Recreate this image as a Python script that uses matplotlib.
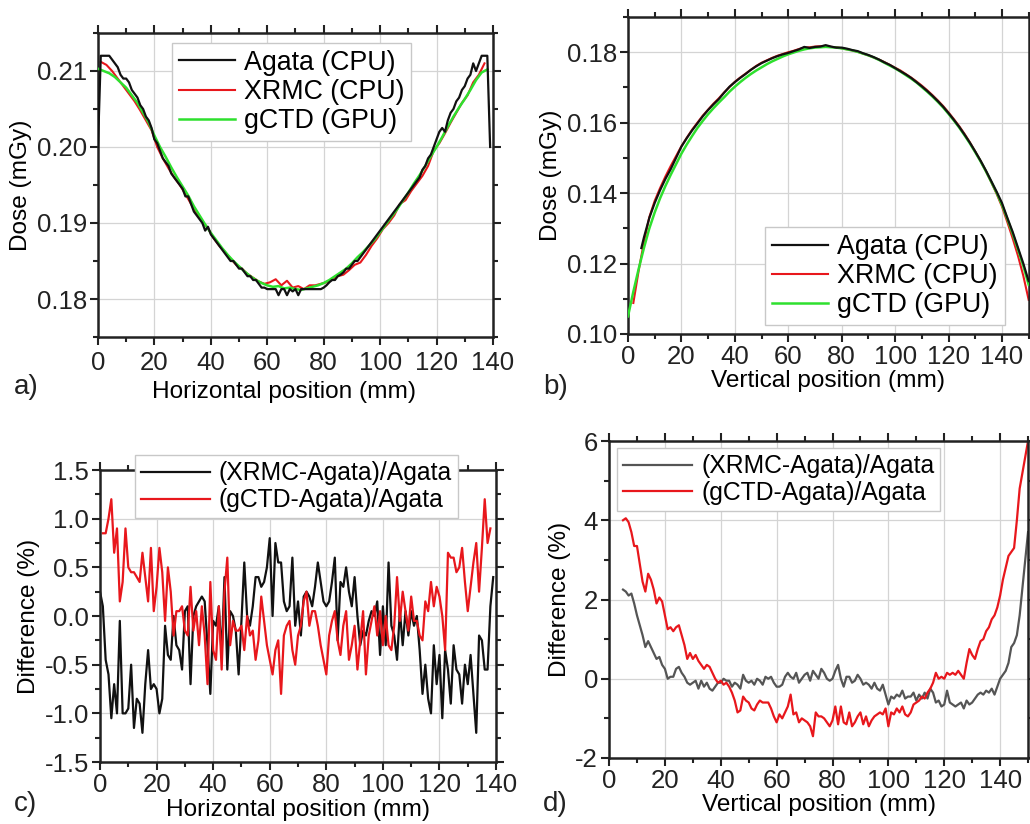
import numpy as np
import matplotlib
matplotlib.use("Agg")
import matplotlib.pyplot as plt
from matplotlib.ticker import MultipleLocator, FormatStrFormatter

plt.rcParams['font.family'] = ['Liberation Sans', 'DejaVu Sans']
plt.rcParams['axes.unicode_minus'] = False

# ---------------- Panel a: horizontal dose profiles ----------------
a_agata_x = np.arange(0, 140, 1)
a_agata = [0.2000, 0.2120, 0.2120, 0.2120, 0.2120, 0.2115, 0.2110, 0.2105, 0.2095, 0.2090,
           0.2090, 0.2085, 0.2075, 0.2070, 0.2065, 0.2055, 0.2050, 0.2040, 0.2035, 0.2025,
           0.2010, 0.2005, 0.1995, 0.1985, 0.1980, 0.1975, 0.1965, 0.1960, 0.1955, 0.1950,
           0.1945, 0.1935, 0.1935, 0.1925, 0.1915, 0.1910, 0.1905, 0.1900, 0.1890, 0.1895,
           0.1885, 0.1880, 0.1875, 0.1870, 0.1865, 0.1860, 0.1855, 0.1850, 0.1850, 0.1845,
           0.1840, 0.1840, 0.1835, 0.1830, 0.1830, 0.1825, 0.1825, 0.1820, 0.1815, 0.1815,
           0.1813, 0.1813, 0.1813, 0.1813, 0.1805, 0.1813, 0.1813, 0.1805, 0.1813, 0.1810,
           0.1813, 0.1805, 0.1813, 0.1813, 0.1813, 0.1813, 0.1813, 0.1813, 0.1813, 0.1813,
           0.1815, 0.1818, 0.1822, 0.1825, 0.1825, 0.1830, 0.1832, 0.1835, 0.1840, 0.1840,
           0.1845, 0.1850, 0.1850, 0.1855, 0.1860, 0.1865, 0.1870, 0.1875, 0.1880, 0.1885,
           0.1890, 0.1895, 0.1900, 0.1905, 0.1910, 0.1915, 0.1920, 0.1925, 0.1930, 0.1935,
           0.1940, 0.1945, 0.1950, 0.1955, 0.1960, 0.1970, 0.1975, 0.1985, 0.1990, 0.2000,
           0.2010, 0.2020, 0.2025, 0.2020, 0.2035, 0.2045, 0.2050, 0.2060, 0.2065, 0.2075,
           0.2080, 0.2090, 0.2095, 0.2110, 0.2100, 0.2110, 0.2120, 0.2120, 0.2120, 0.2000]

a_xrmc_x = np.arange(1, 139, 2)
a_xrmc = [0.2112, 0.2108, 0.2100, 0.2090, 0.2080, 0.2070, 0.2060, 0.2048, 0.2035, 0.2022,
          0.2000, 0.1985, 0.1972, 0.1960, 0.1950, 0.1938, 0.1925, 0.1912, 0.1902, 0.1893,
          0.1880, 0.1870, 0.1862, 0.1853, 0.1845, 0.1840, 0.1833, 0.1828, 0.1823, 0.1820,
          0.1822, 0.1826, 0.1818, 0.1824, 0.1815, 0.1817, 0.1813, 0.1818, 0.1818, 0.1820,
          0.1822, 0.1826, 0.1830, 0.1832, 0.1838, 0.1845, 0.1848, 0.1858, 0.1870, 0.1880,
          0.1892, 0.1900, 0.1910, 0.1925, 0.1930, 0.1942, 0.1952, 0.1962, 0.1975, 0.1995,
          0.2005, 0.2018, 0.2032, 0.2045, 0.2058, 0.2068, 0.2085, 0.2095, 0.2110]

a_gctd_x = np.arange(0, 140, 2)
a_gctd = [0.2103, 0.2100, 0.2097, 0.2092, 0.2085, 0.2078, 0.2068, 0.2058, 0.2045, 0.2032,
          0.2015, 0.2000, 0.1987, 0.1973, 0.1960, 0.1948, 0.1936, 0.1922, 0.1910, 0.1898,
          0.1887, 0.1877, 0.1867, 0.1858, 0.1850, 0.1843, 0.1836, 0.1830, 0.1825, 0.1821,
          0.1818, 0.1816, 0.1817, 0.1814, 0.1815, 0.1813, 0.1812, 0.1814, 0.1816, 0.1818,
          0.1821, 0.1825, 0.1830, 0.1835, 0.1840, 0.1847, 0.1855, 0.1862, 0.1870, 0.1878,
          0.1888, 0.1898, 0.1908, 0.1918, 0.1929, 0.1940, 0.1952, 0.1963, 0.1975, 0.1988,
          0.2000, 0.2013, 0.2027, 0.2040, 0.2052, 0.2063, 0.2075, 0.2088, 0.2098, 0.2102]

# ---------------- Panel b: vertical dose profiles ----------------
b_agata_x = np.concatenate([[5], np.arange(6, 151, 2)])
b_agata = [0.1244, 0.1275, 0.1330, 0.1372, 0.1408, 0.1440, 0.1468, 0.1500, 0.1532, 0.1556,
           0.1578, 0.1598, 0.1618, 0.1636, 0.1652, 0.1667, 0.1685, 0.1702, 0.1715, 0.1727,
           0.1738, 0.1750, 0.1760, 0.1769, 0.1776, 0.1783, 0.1789, 0.1794, 0.1798, 0.1803,
           0.1808, 0.1815, 0.1812, 0.1815, 0.1816, 0.1820, 0.1816, 0.1813, 0.1813, 0.1810,
           0.1806, 0.1803, 0.1797, 0.1792, 0.1786, 0.1779, 0.1771, 0.1764, 0.1755, 0.1746,
           0.1737, 0.1727, 0.1715, 0.1703, 0.1690, 0.1676, 0.1661, 0.1645, 0.1627, 0.1608,
           0.1588, 0.1566, 0.1543, 0.1518, 0.1492, 0.1464, 0.1434, 0.1404, 0.1372, 0.1330,
           0.1290, 0.1245, 0.1200, 0.1150]

b_xrmc_x = np.arange(2, 151, 2)
b_xrmc = [0.1088, 0.1180, 0.1262, 0.1332, 0.1378, 0.1414, 0.1447, 0.1477, 0.1505, 0.1533,
          0.1557, 0.1580, 0.1600, 0.1620, 0.1637, 0.1654, 0.1669, 0.1686, 0.1701, 0.1716,
          0.1728, 0.1739, 0.1750, 0.1761, 0.1770, 0.1777, 0.1784, 0.1790, 0.1795, 0.1800,
          0.1804, 0.1809, 0.1813, 0.1814, 0.1816, 0.1817, 0.1818, 0.1815, 0.1814, 0.1811,
          0.1808, 0.1805, 0.1801, 0.1796, 0.1791, 0.1785, 0.1779, 0.1772, 0.1764, 0.1756,
          0.1748, 0.1738, 0.1728, 0.1717, 0.1705, 0.1692, 0.1678, 0.1663, 0.1647, 0.1629,
          0.1610, 0.1590, 0.1568, 0.1544, 0.1518, 0.1491, 0.1462, 0.1431, 0.1398, 0.1362,
          0.1318, 0.1272, 0.1222, 0.1165, 0.1097]

b_gctd_x = np.arange(0, 151, 2)
b_gctd = [0.1050, 0.1120, 0.1185, 0.1245, 0.1300, 0.1345, 0.1385, 0.1420, 0.1452, 0.1482,
          0.1512, 0.1538, 0.1562, 0.1585, 0.1605, 0.1624, 0.1641, 0.1657, 0.1672, 0.1688,
          0.1702, 0.1715, 0.1727, 0.1738, 0.1748, 0.1757, 0.1766, 0.1774, 0.1781, 0.1788,
          0.1794, 0.1799, 0.1804, 0.1808, 0.1811, 0.1813, 0.1814, 0.1815, 0.1814, 0.1813,
          0.1811, 0.1808, 0.1805, 0.1801, 0.1796, 0.1791, 0.1785, 0.1778, 0.1770, 0.1762,
          0.1754, 0.1745, 0.1735, 0.1725, 0.1714, 0.1701, 0.1688, 0.1674, 0.1659, 0.1643,
          0.1625, 0.1606, 0.1586, 0.1564, 0.1541, 0.1516, 0.1490, 0.1462, 0.1432, 0.1401,
          0.1367, 0.1327, 0.1285, 0.1240, 0.1193, 0.1140]

# ---------------- Panel c: horizontal differences (%) ----------------
c_xrmc_x = np.arange(0, 140, 1)
c_xrmc = [0.25, 0.10, -0.45, -0.60, -1.05, -0.70, -1.00, -0.05, -1.00, -1.00,
          -0.95, -0.50, -1.15, -0.85, -0.90, -1.20, -0.70, -0.35, -0.75, -0.70,
          -0.75, -1.00, -0.85, -0.10, -0.40, -0.45, 0.00, -0.30, -0.35, -0.55,
          0.05, 0.10, -0.70, 0.00, 0.10, 0.15, 0.20, 0.15, -0.30, -0.80,
          -0.05, -0.10, 0.10, -0.40, 0.40, -0.55, 0.05, 0.00, -0.15, -0.60,
          -0.05, 0.55, 0.00, -0.10, 0.10, 0.40, 0.40, 0.30, 0.35, 0.50,
          0.80, 0.00, 0.75, 0.55, 0.55, 0.15, 0.05, 0.10, 0.60, -0.10,
          0.15, -0.20, 0.20, 0.25, 0.20, 0.10, 0.30, 0.55, 0.35, 0.15,
          0.10, 0.15, 0.35, 0.60, -0.25, 0.35, 0.30, 0.50, 0.25, 0.10,
          0.40, 0.00, -0.30, -0.15, -0.20, -0.05, 0.05, 0.00, 0.15, -0.40,
          0.10, -0.30, 0.55, -0.10, -0.20, -0.45, 0.05, -0.30, 0.05, -0.20,
          0.05, -0.10, 0.00, -0.35, -0.80, -0.50, -0.85, -1.00, -0.30, -0.70,
          -0.40, -1.05, -0.35, -0.55, -0.90, -0.30, -0.55, -0.60, -0.90, -0.50,
          -0.70, -0.40, -0.80, -1.20, -0.20, -0.25, -0.55, -0.55, 0.10, 0.40]

c_gctd_x = np.arange(1, 139, 1)
c_gctd = [0.85, 0.85, 1.00, 1.20, 0.65, 0.90, 0.15, 0.35, 0.90, 0.50,
          0.45, 0.45, 0.40, 0.35, 0.65, 0.40, 0.15, 0.70, 0.05, 0.30,
          0.70, 0.45, -0.05, 0.50, 0.25, -0.20, 0.05, 0.05, 0.10, -0.15,
          -0.20, 0.30, -0.15, 0.05, -0.30, 0.10, -0.20, -0.70, 0.35, -0.35,
          -0.45, 0.10, -0.55, 0.25, 0.60, -0.30, -0.05, -0.15, -0.15, -0.10,
          -0.35, 0.00, -0.20, -0.15, -0.45, -0.25, 0.20, -0.05, -0.30, -0.45,
          -0.60, -0.35, -0.25, -0.80, -0.20, -0.10, -0.05, -0.35, -0.50, -0.20,
          -0.10, 0.15, 0.25, -0.10, 0.05, 0.05, -0.10, -0.30, -0.45, -0.60,
          -0.20, -0.05, 0.05, -0.25, -0.40, -0.10, 0.05, -0.45, -0.30, -0.10,
          -0.55, -0.25, 0.05, -0.60, -0.20, -0.05, 0.10, -0.20, 0.05, -0.30,
          0.00, -0.30, -0.35, -0.10, 0.40, -0.05, 0.25, 0.05, -0.15, 0.20,
          -0.05, -0.05, -0.20, -0.25, 0.15, 0.05, 0.35, 0.10, 0.30, 0.20,
          0.00, -0.35, 0.65, 0.60, 0.60, 0.45, 0.50, 0.70, 0.35, 0.05,
          0.30, 0.55, 0.75, 0.25, 0.70, 1.20, 0.75, 0.90]

# ---------------- Panel d: vertical differences (%) ----------------
d_xrmc_x = np.arange(5, 151, 1)
d_xrmc = [2.25, 2.20, 2.10, 2.15, 1.90, 1.60, 1.35, 1.10, 0.80, 0.95,
          0.80, 0.65, 0.50, 0.55, 0.35, 0.25, 0.00, 0.05, 0.05, 0.25,
          0.30, 0.15, 0.05, -0.10, -0.15, -0.10, -0.05, -0.25, -0.05, -0.20,
          -0.10, -0.25, -0.30, -0.20, -0.10, -0.10, 0.00, -0.05, -0.05, -0.20,
          -0.10, -0.15, -0.25, 0.10, -0.05, -0.10, -0.05, -0.15, 0.00, -0.05,
          -0.15, 0.05, 0.00, 0.05, -0.10, -0.20, -0.20, -0.15, 0.05, 0.15,
          0.05, 0.00, 0.15, -0.10, 0.00, 0.10, 0.15, -0.05, 0.20, 0.10,
          0.00, 0.25, 0.15, 0.00, -0.05, 0.00, 0.20, 0.35, 0.00, -0.20,
          0.05, 0.05, -0.10, -0.05, 0.10, 0.00, -0.15, -0.10, -0.15, -0.25,
          -0.10, -0.25, -0.30, -0.15, -0.40, -0.65, -0.45, -0.50, -0.40, -0.45,
          -0.30, -0.50, -0.45, -0.45, -0.35, -0.55, -0.40, -0.50, -0.35, -0.50,
          -0.25, -0.35, -0.60, -0.55, -0.70, -0.65, -0.30, -0.60, -0.65, -0.70,
          -0.65, -0.60, -0.75, -0.55, -0.65, -0.60, -0.50, -0.40, -0.35, -0.40,
          -0.30, -0.35, -0.25, -0.40, -0.20, 0.00, 0.10, 0.20, 0.40, 0.80,
          0.90, 1.10, 1.60, 2.30, 3.00, 3.70]

d_gctd_x = np.arange(5, 151, 1)
d_gctd = [4.00, 4.05, 3.95, 3.70, 3.35, 3.35, 2.90, 2.45, 2.20, 2.65,
          2.50, 2.25, 1.90, 2.05, 1.95, 1.60, 1.25, 1.30, 1.20, 1.30,
          1.35, 1.10, 0.85, 0.50, 0.65, 0.50, 0.60, 0.45, 0.35, 0.25,
          0.35, 0.30, 0.15, 0.00, -0.10, -0.05, -0.15, -0.10, -0.20, -0.35,
          -0.55, -0.85, -0.80, -0.45, -0.55, -0.60, -0.75, -0.80, -0.65, -0.55,
          -0.60, -0.60, -0.60, -0.75, -0.95, -1.10, -0.90, -1.00, -0.85, -0.70,
          -0.40, -0.90, -0.85, -1.10, -1.00, -1.05, -1.10, -1.20, -1.45, -0.85,
          -0.95, -0.95, -1.00, -1.10, -1.20, -1.05, -0.70, -1.15, -0.70, -1.10,
          -1.15, -0.85, -1.20, -1.10, -0.95, -0.85, -1.15, -0.95, -1.20, -1.05,
          -0.95, -0.90, -0.85, -0.90, -0.75, -1.20, -0.85, -0.90, -0.75, -0.85,
          -0.70, -0.90, -0.95, -0.85, -0.65, -0.60, -0.55, -0.45, -0.50, -0.35,
          -0.25, -0.10, 0.15, 0.00, 0.05, 0.00, 0.15, 0.10, 0.15, 0.10,
          0.20, 0.10, 0.00, 0.40, 0.75, 0.60, 0.50, 0.75, 0.95, 1.00,
          1.20, 1.30, 1.50, 1.60, 1.80, 2.10, 2.50, 2.80, 3.10, 3.20,
          3.30, 4.00, 4.80, 5.20, 5.60, 6.00]

xlabel_h = "Horizontal position (mm)"
xlabel_v = "Vertical position (mm)"
ylabel_dose = "Dose (mGy)"
ylabel_diff = "Difference (%)"

# ---------------- styling ----------------
BLACK = "#111111"
RED = "#e8171c"
GREEN = "#2ee02e"
GRAY = "#555555"
FS_TICK = 18.5
FS_LABEL = 17.6
FS_LEG_TOP = 19.3
FS_LEG_BOT = 17.8

fig = plt.figure(figsize=(10.30, 8.24), dpi=100)


def style(ax, xmaj, xmin, ymaj, ymin, yfmt):
    ax.xaxis.set_major_locator(MultipleLocator(xmaj))
    ax.xaxis.set_minor_locator(MultipleLocator(xmin))
    ax.yaxis.set_major_locator(MultipleLocator(ymaj))
    ax.yaxis.set_minor_locator(MultipleLocator(ymin))
    ax.yaxis.set_major_formatter(FormatStrFormatter(yfmt))
    ax.tick_params(which='both', direction='out', top=True, right=True,
                   labeltop=False, labelright=False, width=1.5, colors='#222222',
                   labelcolor='#222222')
    ax.tick_params(which='major', length=6, labelsize=FS_TICK, pad=2)
    ax.tick_params(which='minor', length=3.5)
    ax.grid(True, which='major', color='#d4d4d4', linewidth=0.9)
    ax.set_axisbelow(True)
    for s in ax.spines.values():
        s.set_linewidth(1.8)
        s.set_color('#222222')


def legend(ax, handles, labels, loc, anchor, fs, hl):
    lg = ax.legend(handles, labels, loc=loc, bbox_to_anchor=anchor, fontsize=fs,
                   frameon=True, fancybox=False, framealpha=1, edgecolor='#c8c8c8',
                   handlelength=hl, handletextpad=0.35, borderpad=0.25,
                   labelspacing=0.12, borderaxespad=0)
    lg.get_frame().set_linewidth(1.0)
    lg.set_zorder(10)
    return lg


order = [2, 0, 1]

# a)
ax_a = fig.add_axes([0.0951, 0.591, 0.3835, 0.369])
ax_a.plot(a_xrmc_x, a_xrmc, color=RED, lw=1.5, label="XRMC (CPU)", zorder=2)
ax_a.plot(a_gctd_x, a_gctd, color=GREEN, lw=1.8, label="gCTD (GPU)", zorder=3)
ax_a.plot(a_agata_x, a_agata, color=BLACK, lw=1.6, label="Agata (CPU)", zorder=4)
ax_a.set_xlim(0, 140)
ax_a.set_ylim(0.175, 0.215)
style(ax_a, 20, 10, 0.01, 0.005, '%.2f')
ax_a.tick_params(axis='x', which='major', pad=4)
ax_a.set_xlabel(xlabel_h, fontsize=FS_LABEL, labelpad=5)
ax_a.xaxis.set_label_coords(0.47, -0.145)
ax_a.set_ylabel(ylabel_dose, fontsize=FS_LABEL, labelpad=3)
h, l = ax_a.get_legend_handles_labels()
legend(ax_a, [h[i] for i in order], [l[i] for i in order], 'upper left',
       (0.187, 0.967), FS_LEG_TOP, 2.1)

# b)
ax_b = fig.add_axes([0.6097, 0.5947, 0.389, 0.3847])
ax_b.plot(b_xrmc_x, b_xrmc, color=RED, lw=1.5, label="XRMC (CPU)", zorder=2)
ax_b.plot(b_gctd_x, b_gctd, color=GREEN, lw=1.8, label="gCTD (GPU)", zorder=3)
ax_b.plot(b_agata_x, b_agata, color=BLACK, lw=1.6, label="Agata (CPU)", zorder=4)
ax_b.set_xlim(0, 150)
ax_b.set_ylim(0.10, 0.19)
style(ax_b, 20, 10, 0.02, 0.01, '%.2f')
ax_b.set_xlabel(xlabel_v, fontsize=FS_LABEL, labelpad=1)
ax_b.set_ylabel(ylabel_dose, fontsize=FS_LABEL, labelpad=3)
h, l = ax_b.get_legend_handles_labels()
legend(ax_b, [h[i] for i in order], [l[i] for i in order], 'lower left',
       (0.342, 0.028), FS_LEG_TOP, 2.1)

# c)
ax_c = fig.add_axes([0.0971, 0.0752, 0.3845, 0.3544])
ax_c.plot(c_xrmc_x, c_xrmc, color=BLACK, lw=1.6, label="(XRMC-Agata)/Agata")
ax_c.plot(c_gctd_x, c_gctd, color=RED, lw=1.6, label="(gCTD-Agata)/Agata")
ax_c.set_xlim(0, 140)
ax_c.set_ylim(-1.5, 1.5)
style(ax_c, 20, 10, 0.5, 0.25, '%.1f')
ax_c.set_xlabel(xlabel_h, fontsize=FS_LABEL, labelpad=1)
ax_c.set_ylabel(ylabel_diff, fontsize=FS_LABEL, labelpad=3)
h, l = ax_c.get_legend_handles_labels()
legend(ax_c, h, l, 'upper left', (0.088, 1.051), FS_LEG_BOT, 2.8)

# d)
ax_d = fig.add_axes([0.5913, 0.0801, 0.4068, 0.3847])
ax_d.plot(d_xrmc_x, d_xrmc, color=GRAY, lw=1.6, label="(XRMC-Agata)/Agata")
ax_d.plot(d_gctd_x, d_gctd, color=RED, lw=1.6, label="(gCTD-Agata)/Agata")
ax_d.set_xlim(0, 150)
ax_d.set_ylim(-2, 6)
style(ax_d, 20, 10, 2, 1, '%d')
ax_d.set_xlabel(xlabel_v, fontsize=FS_LABEL, labelpad=1)
ax_d.set_ylabel(ylabel_diff, fontsize=FS_LABEL, labelpad=3)
h, l = ax_d.get_legend_handles_labels()
legend(ax_d, h, l, 'upper left', (0.019, 0.978), FS_LEG_BOT, 2.8)

# reference shows tick labels only up to 140 on the vertical-position axes
for ax in (ax_b, ax_d):
    ax.set_xticks(np.arange(0, 141, 20))

# panel letters
fig.text(0.013, 0.522, "a)", fontsize=20, color='#222222')
fig.text(0.527, 0.522, "b)", fontsize=20, color='#222222')
fig.text(0.013, 0.016, "c)", fontsize=20, color='#222222')
fig.text(0.527, 0.016, "d)", fontsize=20, color='#222222')

fig.savefig("out.png", dpi=100)
